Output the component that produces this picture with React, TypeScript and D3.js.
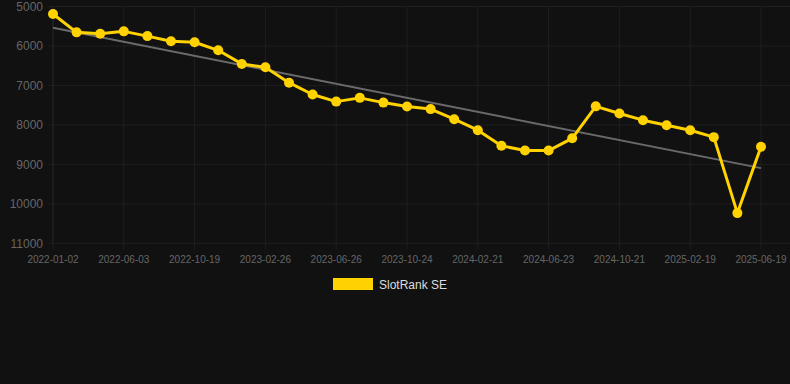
import React from "react";
import * as d3 from "d3";

const labels: string[] = [
  "2022-01-02", "2022-02-21", "2022-04-13", "2022-06-03", "2022-07-19", "2022-09-03",
  "2022-10-19", "2022-11-29", "2023-01-13", "2023-02-26", "2023-04-08", "2023-05-17",
  "2023-06-26", "2023-08-06", "2023-09-15", "2023-10-24", "2023-12-03", "2024-01-12",
  "2024-02-21", "2024-04-01", "2024-05-12", "2024-06-23", "2024-08-02", "2024-09-11",
  "2024-10-21", "2024-12-01", "2025-01-10", "2025-02-19", "2025-03-31", "2025-05-10",
  "2025-06-19",
];

const values: number[] = [
  5190, 5655, 5690, 5630, 5750, 5880, 5905, 6110, 6455, 6540,
  6930, 7230, 7410, 7315, 7435, 7535, 7600, 7855, 8135, 8530,
  8650, 8650, 8340, 7530, 7710, 7880, 8010, 8135, 8310, 10235,
  8555,
];

const yTicks: number[] = [5000, 6000, 7000, 8000, 9000, 10000, 11000];
const seriesName = "SlotRank SE";

const W = 790;
const H = 384;
const left = 53;
const right = 761;
const top = 6.5;
const bottom = 243.3;

export default function App() {
  const x = d3.scaleLinear().domain([0, labels.length - 1]).range([left, right]);
  const y = d3.scaleLinear().domain([5000, 11000]).range([top, bottom]);

  const n = values.length;
  const xs = values.map((_, i) => i);
  const mx = d3.mean(xs)!;
  const my = d3.mean(values)!;
  const slope =
    d3.sum(xs.map((xi, i) => (xi - mx) * (values[i] - my))) /
    d3.sum(xs.map((xi) => (xi - mx) * (xi - mx)));
  const intercept = my - slope * mx;

  const line = d3
    .line<number>()
    .x((_, i) => x(i))
    .y((d) => y(d));

  const font = "'Liberation Sans', Arial, sans-serif";
  const gridColor = "#1f1f1f";

  return (
    <svg
      width={W}
      height={H}
      style={{ position: "absolute", left: 0, top: 0, background: "#111111" }}
    >
      <rect x={0} y={0} width={W} height={H} fill="#111111" />
      {yTicks.map((t) => (
        <line
          key={"h" + t}
          x1={left - 5}
          x2={W}
          y1={y(t)}
          y2={y(t)}
          stroke={gridColor}
          strokeWidth={1}
        />
      ))}
      {labels.map((l, i) =>
        i % 3 === 0 ? (
          <line
            key={"v" + l}
            x1={x(i)}
            x2={x(i)}
            y1={top}
            y2={bottom + 6}
            stroke={gridColor}
            strokeWidth={1}
          />
        ) : null
      )}
      <line x1={left} x2={left} y1={top} y2={bottom} stroke="#252525" strokeWidth={1} />
      {yTicks.map((t) => (
        <text
          key={"yt" + t}
          x={43}
          y={y(t)}
          dy="0.35em"
          textAnchor="end"
          fill="#666666"
          fontSize={12}
          fontFamily={font}
        >
          {t}
        </text>
      ))}
      {labels.map((l, i) =>
        i % 3 === 0 ? (
          <text
            key={"xt" + l}
            x={x(i)}
            y={263}
            textAnchor="middle"
            fill="#666666"
            fontSize={10}
            fontFamily={font}
          >
            {l}
          </text>
        ) : null
      )}
      <line
        x1={x(0)}
        x2={x(n - 1)}
        y1={y(intercept)}
        y2={y(intercept + slope * (n - 1))}
        stroke="#6a6a6a"
        strokeWidth={2}
      />
      <path d={line(values) || ""} fill="none" stroke="#ffd200" strokeWidth={3} strokeLinejoin="round" />
      {values.map((v, i) => (
        <circle key={"p" + i} cx={x(i)} cy={y(v)} r={5} fill="#ffd200" />
      ))}
      <rect x={333} y={278} width={40} height={12} fill="#ffd200" />
      <text x={379} y={288.5} fill="#dddddd" fontSize={12} fontFamily={font}>
        {seriesName}
      </text>
    </svg>
  );
}
